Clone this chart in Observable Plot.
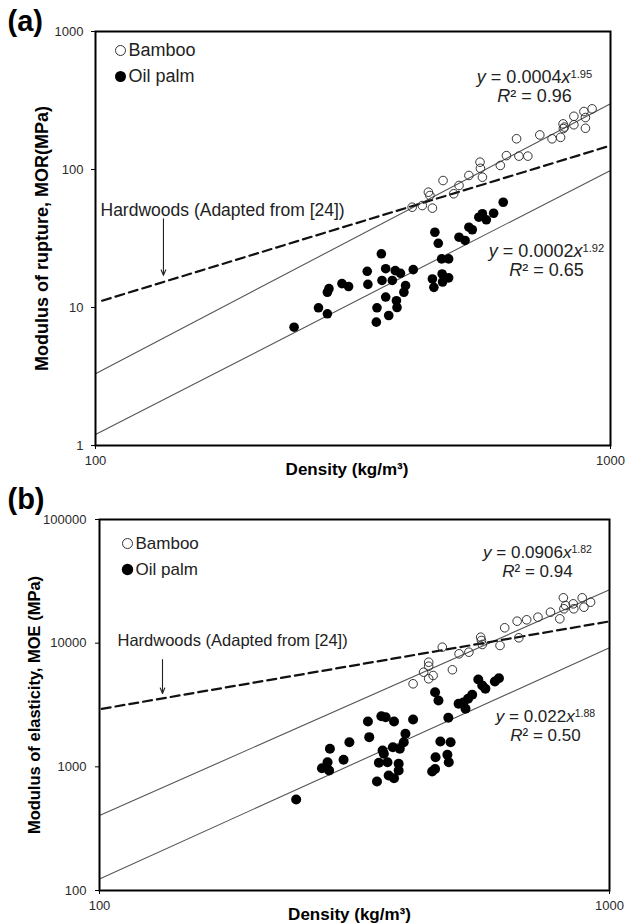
<!DOCTYPE html>
<html><head><meta charset="utf-8">
<script src="https://cdn.jsdelivr.net/npm/d3@7"></script>
<script src="https://cdn.jsdelivr.net/npm/@observablehq/plot@0.6"></script>
<style>
html,body{margin:0;padding:0;background:#fff;}
#wrap{position:relative;width:627px;height:923px;overflow:hidden;}
#wrap svg{position:absolute;left:0;}
</style></head><body><div id="wrap"></div>
<script>
// ---------- DATA ----------
const xTicks = [100, 1000];
const morTicks = [1, 10, 100, 1000];
const moeTicks = [100, 1000, 10000, 100000];
const seriesNames = ["Bamboo", "Oil palm"];
const hardwoodLabel = "Hardwoods (Adapted from [24])";
const xTitle = "Density (kg/m³)";
const morTitle = "Modulus of rupture, MOR(MPa)";
const moeTitle = "Modulus of elasticity, MOE (MPa)";

// (a) MOR vs density
const morBambooDensity = [412,431,451,443,446,473,496,508,531,558,559,564,611,628,664,691,657,729,770,800,809,814,810,849,849,888,894,894,921];
const morBambooMOR     = [53.3,54.8,52.5,68.5,64.8,83.2,66.7,76.6,90.5,113,102,88,107,126,125,125,167,178,167,171,214,203,198,211,243,263,199,238,275];
const morOilDensity = [243,271,282,282,284,301,310,337,338,351,352,359,360,366,366,371,377,382,384,385,391,400,397,414,456,463,470,485,451,471,485,454,472,508,522,531,539,555,564,574,593,619];
const morOilMOR     = [7.2,9.95,9.0,12.9,13.7,14.9,14.2,18.3,14.7,7.83,9.95,24.5,15.7,19.1,11.9,8.75,15.7,18.5,11.2,10.0,17.7,14.4,12.9,18.8,35.1,29.2,22.5,22.5,16.1,17.5,16.4,14.0,15.3,32.3,30.6,38.2,36.6,45.1,47.8,43.2,48.2,57.9];
const morFitX = [100, 1000];
const morBambooFitY = [3.31, 299];
const morOilFitY = [1.2, 98.4];
const morHardwoodX = [103, 1000];
const morHardwoodY = [11.2, 149];
const morArrowX = [135.5, 135.5];
const morArrowY = [44, 17.1];
const morEqCoef = ["0.0004", "0.0002"];
const morEqExp = ["1.95", "1.92"];
const morR2 = ["0.96", "0.65"];

// (b) MOE vs density
const moeBambooDensity = [412,432,442,442,442,451,470,492,507,530,559,561,563,610,623,659,664,688,724,766,799,812,814,820,849,851,884,891,918];
const moeBambooMOE     = [4694,5825,5152,7015,6513,5477,9277,6091,8204,8453,11175,10510,9754,9575,13315,15055,11050,15450,16218,17800,15740,23270,18960,20170,20800,18960,23270,19540,21440];
const moeOilDensity = [243,273,280,282,283,301,309,336,338,350,353,357,364,359,361,367,369,378,376,378,386,388,395,398,386,412,449,455,456,455,462,466,488,481,484,483,506,517,522,528,538,553,563,571,596,607];
const moeOilMOE     = [545,975,1090,934,1400,1140,1582,2327,1738,761,1078,2567,2520,1355,1275,1090,851,2327,1442,809,1058,1400,1582,1849,934,2414,917,961,1197,4013,3439,1603,1582,1252,1090,2492,3235,3314,2946,3548,3823,5083,4547,4276,4898,5210];
const moeFitX = [100, 1000];
const moeBambooFitY = [404, 27010];
const moeOilFitY = [124, 9180];
const moeHardwoodX = [101, 1000];
const moeHardwoodY = [2944, 15000];
const moeArrowX = [132.9, 132.9];
const moeArrowY = [7380, 3918];
const moeEqCoef = ["0.0906", "0.022"];
const moeEqExp = ["1.82", "1.88"];
const moeR2 = ["0.94", "0.50"];

// ---------- RENDER ----------
const FONT = '"Liberation Sans", Arial, Helvetica, sans-serif';
const pts = (xs, ys) => xs.map((x, i) => ({x, y: ys[i]}));

function panel(cfg) {
  const A = (ax, ay, anchor = "start") => ({frameAnchor: "top-left", dx: ax - cfg.ml, dy: ay - (cfg.top + cfg.mt), textAnchor: anchor, lineAnchor: "middle"});
  const fs = cfg.fs;
  const eqText = cfg.coef.map((c, i) => "y = " + c + "x" + cfg.exps[i]);
  const r2Text = cfg.r2.map(r => "R² = " + r);
  const svg = Plot.plot({
    width: 627, height: cfg.height,
    marginLeft: cfg.ml, marginRight: cfg.mr, marginTop: cfg.mt, marginBottom: cfg.mb,
    style: {fontFamily: FONT, fontSize: "13px", color: "#2a2a2a", background: "white"},
    x: {type: "log", domain: [100, 1000]},
    y: {type: "log", domain: cfg.yDomain},
    marks: [
      Plot.axisX(xTicks, {tickSize: 4, tickPadding: 6, tickFormat: d => String(d), label: null, fontSize: 13, stroke: "black"}),
      Plot.axisY(cfg.yTicks, {tickSize: 4, tickPadding: cfg.tickPadY, tickFormat: d => String(d), label: null, fontSize: 13, stroke: "black"}),
      Plot.line(pts(cfg.fitX, cfg.bFitY), {x: "x", y: "y", stroke: "#555", strokeWidth: 1.1}),
      Plot.line(pts(cfg.fitX, cfg.oFitY), {x: "x", y: "y", stroke: "#555", strokeWidth: 1.1}),
      Plot.line(pts(cfg.hwX, cfg.hwY), {x: "x", y: "y", stroke: "#111", strokeWidth: 2.2, strokeDasharray: "9,5"}),
      Plot.arrow([0], {x1: cfg.arX[0], y1: cfg.arY[0], x2: cfg.arX[1], y2: cfg.arY[1], stroke: "#222", strokeWidth: 1.1, headLength: 8, headAngle: 45}),
      Plot.dot(pts(cfg.oX, cfg.oY), {x: "x", y: "y", r: cfg.rO, fill: "black", stroke: "none"}),
      Plot.dot(pts(cfg.bX, cfg.bY), {x: "x", y: "y", r: cfg.rB, fill: "none", stroke: "#333", strokeWidth: 1}),
      // legend
      Plot.dot([0], {...A(cfg.leg[0], cfg.leg[1]), r: cfg.rB + 0.7, fill: "white", stroke: "#333", strokeWidth: 1}),
      Plot.dot([0], {...A(cfg.leg[0], cfg.leg[1] + cfg.legGap), r: cfg.rO + 0.7, fill: "black"}),
      Plot.text([seriesNames[0]], {...A(cfg.leg[0] + 8, cfg.leg[1]), text: d => d, fontSize: fs, fill: "#222"}),
      Plot.text([seriesNames[1]], {...A(cfg.leg[0] + 8, cfg.leg[1] + cfg.legGap), text: d => d, fontSize: fs, fill: "#222"}),
      // equations
      Plot.text([eqText[0]], {...A(cfg.eq1[0], cfg.eq1[1], "middle"), text: d => d, fontSize: fs, fill: "#222", ariaDescription: "eq"}),
      Plot.text([r2Text[0]], {...A(cfg.eq1[0], cfg.eq1[1] + 19, "middle"), text: d => d, fontSize: fs, fill: "#222", ariaDescription: "r2"}),
      Plot.text([eqText[1]], {...A(cfg.eq2[0], cfg.eq2[1], "middle"), text: d => d, fontSize: fs, fill: "#222", ariaDescription: "eq"}),
      Plot.text([r2Text[1]], {...A(cfg.eq2[0], cfg.eq2[1] + 19, "middle"), text: d => d, fontSize: fs, fill: "#222", ariaDescription: "r2"}),
      // hardwood annotation
      Plot.text([hardwoodLabel], {...A(cfg.hw[0], cfg.hw[1]), text: d => d, fontSize: cfg.fsHw, fill: "#222"}),
      // panel letter
      Plot.text([cfg.letter], {...A(7, cfg.letterY), text: d => d, fontSize: 29, fontWeight: "bold", fill: "black"}),
      // axis titles
      Plot.text([cfg.yTitle], {frameAnchor: "left", dx: cfg.yTitleX - cfg.ml, rotate: -90, textAnchor: "middle", lineAnchor: "middle", text: d => d, fontSize: cfg.fsTitleY, fontWeight: "bold", fill: "black"}),
      Plot.text([xTitle], {frameAnchor: "bottom", dx: cfg.xTitleDx, dy: cfg.xTitleDy, textAnchor: "middle", lineAnchor: "middle", text: d => d, fontSize: 17, fontWeight: "bold", fill: "black"}),
      Plot.frame({stroke: "black", strokeWidth: 2})
    ]
  });
  svg.style.top = cfg.top + "px";
  const s = d3.select(svg);
  s.selectAll('g[aria-description="eq"] text').each(function(d, j) {
    const t = d3.select(this); t.text(null);
    t.append("tspan").attr("font-style", "italic").text("y");
    t.append("tspan").text(" = " + cfg.coef[j]);
    t.append("tspan").attr("font-style", "italic").text("x");
    t.append("tspan").attr("dy", "-0.5em").attr("font-size", "0.62em").text(cfg.exps[j]);
  });
  s.selectAll('g[aria-description="r2"] text').each(function(d, j) {
    const t = d3.select(this); t.text(null);
    t.append("tspan").attr("font-style", "italic").text("R");
    t.append("tspan").text("² = " + cfg.r2[j]);
  });
  document.getElementById("wrap").appendChild(svg);
}

panel({
  top: 0, height: 482, ml: 95, mr: 17, mt: 31, mb: 37,
  yDomain: [1, 1000], yTicks: morTicks, tickPadY: 8,
  fitX: morFitX, bFitY: morBambooFitY, oFitY: morOilFitY,
  hwX: morHardwoodX, hwY: morHardwoodY, arX: morArrowX, arY: morArrowY,
  bX: morBambooDensity, bY: morBambooMOR, oX: morOilDensity, oY: morOilMOR,
  rB: 4.3, rO: 4.8, fs: 18, fsHw: 17.5, fsTitleY: 18,
  leg: [120, 50], legGap: 26,
  eq1: [534, 77], eq2: [546, 251], hw: [100, 210],
  coef: morEqCoef, exps: morEqExp, r2: morR2,
  letter: "(a)", letterY: 21, yTitle: morTitle, yTitleX: 42,
  xTitleDx: -6, xTitleDy: 24
});
panel({
  top: 482, height: 441, ml: 99, mr: 18, mt: 37, mb: 33,
  yDomain: [100, 100000], yTicks: moeTicks, tickPadY: 9,
  fitX: moeFitX, bFitY: moeBambooFitY, oFitY: moeOilFitY,
  hwX: moeHardwoodX, hwY: moeHardwoodY, arX: moeArrowX, arY: moeArrowY,
  bX: moeBambooDensity, bY: moeBambooMOE, oX: moeOilDensity, oY: moeOilMOE,
  rB: 4.3, rO: 5, fs: 17, fsHw: 16.5, fsTitleY: 16.5,
  leg: [127, 543], legGap: 26,
  eq1: [537, 552], eq2: [545, 716], hw: [117, 640],
  coef: moeEqCoef, exps: moeEqExp, r2: moeR2,
  letter: "(b)", letterY: 499, yTitle: moeTitle, yTitleX: 34,
  xTitleDx: -5, xTitleDy: 24
});
</script></body></html>
